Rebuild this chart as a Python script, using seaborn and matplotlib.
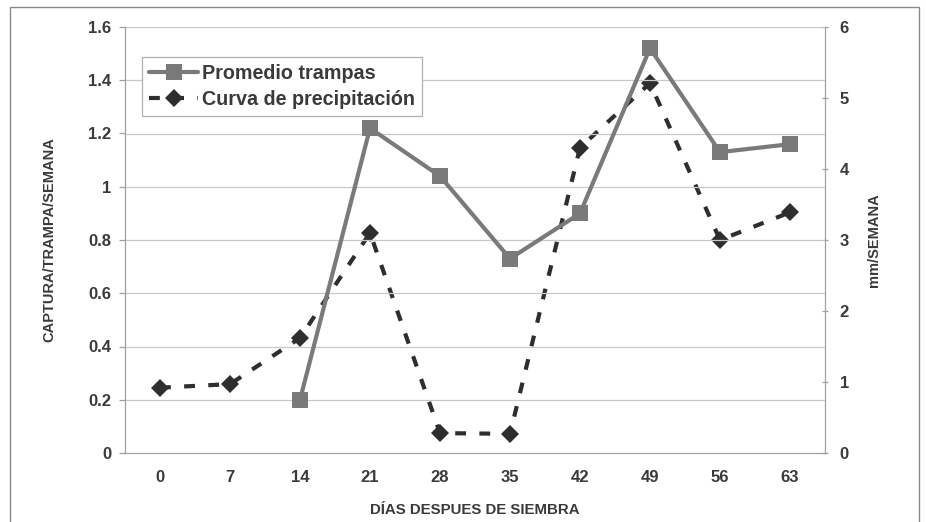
import matplotlib
matplotlib.use("Agg")
import matplotlib.pyplot as plt
from matplotlib.patches import Rectangle
from matplotlib.lines import Line2D
import seaborn as sns
import numpy as np

sns.set_theme(style="white")
plt.rcParams['font.family'] = ['Liberation Sans', 'DejaVu Sans']

# Días después de siembra
dias = ["0", "7", "14", "21", "28", "35", "42", "49", "56", "63"]
# Promedio de captura por trampa (eje izquierdo); sin dato en 0 y 7
trampas = [np.nan, np.nan, 0.20, 1.22, 1.04, 0.73, 0.90, 1.52, 1.13, 1.16]
# Precipitación semanal en mm (eje derecho)
precip = [0.92, 0.97, 1.62, 3.10, 0.28, 0.27, 4.30, 5.21, 3.00, 3.39]

pos = np.arange(len(dias))
txt = "#3a3a3a"
dash = (0, (2.6, 3.2))

fig = plt.figure(figsize=(9.26, 5.22), dpi=100)
fig.patch.set_facecolor("white")
ax = fig.add_axes([125 / 926, 1 - 453 / 522, 700 / 926, 426 / 522])
ax2 = ax.twinx()

# Outer frame of the chart
fig.patches.append(Rectangle((10 / 926, -0.01), 909 / 926, 1 - 7 / 522 + 0.01,
                             transform=fig.transFigure, fill=False,
                             edgecolor="#8a8a8a", linewidth=1.0, zorder=0))

# Horizontal gridlines
for yv in np.arange(0.2, 1.61, 0.2):
    ax.axhline(yv, color="#c8c8c8", linewidth=0.9, zorder=0)

sns.lineplot(x=pos, y=precip, ax=ax2, color="#2e2e2e", linewidth=3.0,
             marker="D", markersize=9.5, markeredgewidth=0,
             linestyle=dash, zorder=3)
sns.lineplot(x=pos, y=trampas, ax=ax, color="#7a7a7a", linewidth=3.0,
             marker="s", markersize=11, markeredgewidth=0, zorder=4)

ax.set_zorder(ax2.get_zorder() + 1)
ax.patch.set_visible(False)

ax.set_xlim(-0.5, len(dias) - 0.5)
ax.set_ylim(0, 1.6)
ax2.set_ylim(0, 6)

ax.set_xticks(pos)
ax.set_xticklabels(dias)
ax.set_xticks(np.arange(-0.5, len(dias), 1.0), minor=True)
ax.tick_params(axis="x", which="major", length=0, pad=12, labelsize=12,
               labelcolor=txt)
ax.tick_params(axis="x", which="minor", length=5, direction="in",
               color="#a0a0a0", width=0.9)
ax.set_yticks(np.arange(0, 1.61, 0.2))
ax.set_yticklabels(["0", "0.2", "0.4", "0.6", "0.8", "1", "1.2", "1.4", "1.6"])
ax.tick_params(axis="y", length=4, direction="out", color="#a0a0a0",
               width=0.9, pad=6, labelsize=12, labelcolor=txt)
ax2.set_yticks(range(0, 7))
ax2.tick_params(axis="y", length=5, direction="inout", color="#a0a0a0",
                width=0.9, pad=8, labelsize=12, labelcolor=txt)
for t in ax.get_xticklabels() + ax.get_yticklabels() + ax2.get_yticklabels():
    t.set_fontweight("bold")

for a in (ax, ax2):
    for side in ("top", "right", "left", "bottom"):
        a.spines[side].set_visible(False)
ax.spines["left"].set_visible(True)
ax.spines["bottom"].set_visible(True)
ax2.spines["right"].set_visible(True)
for sp in (ax.spines["left"], ax.spines["bottom"], ax2.spines["right"]):
    sp.set_color("#a0a0a0")
    sp.set_linewidth(0.9)

ax.set_ylabel("CAPTURA/TRAMPA/SEMANA", fontsize=10.5, fontweight="bold",
              color=txt, labelpad=23)
ax2.set_ylabel("mm/SEMANA", fontsize=10.5, fontweight="bold", color=txt,
               labelpad=13)
ax.set_xlabel("DÍAS DESPUES DE SIEMBRA", fontsize=10.8, fontweight="bold",
              color=txt, labelpad=13)

handles = [
    Line2D([], [], color="#7a7a7a", linewidth=3.0, marker="s", markersize=11,
           markeredgewidth=0),
    Line2D([], [], color="#2e2e2e", linewidth=3.0, marker="D", markersize=9.5,
           markeredgewidth=0, linestyle=dash),
]
leg = ax.legend(handles, ["Promedio trampas", "Curva de precipitación"],
                loc="upper left", bbox_to_anchor=(17 / 700, 1 - 30 / 426),
                borderaxespad=0, frameon=True, fancybox=False, framealpha=1,
                edgecolor="#b0b0b0", borderpad=0.35, handlelength=2.5,
                handletextpad=0.2, labelspacing=0.35,
                prop={"size": 14.2, "weight": "bold"})
leg.get_frame().set_linewidth(0.9)
for t in leg.get_texts():
    t.set_color(txt)

fig.savefig("out.png", dpi=100)
